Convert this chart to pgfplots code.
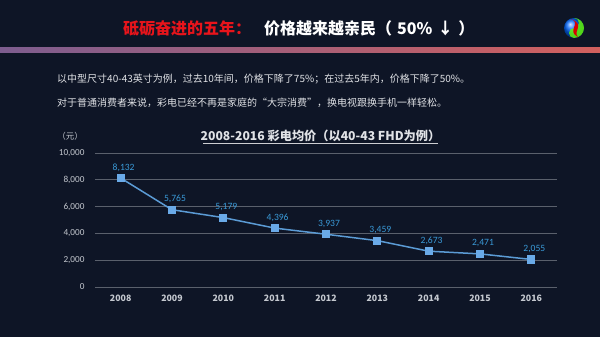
\documentclass[border=0pt]{standalone}
\usepackage{pgfplots}
\pgfplotsset{compat=1.18}
\usepackage{fontspec}
\setmainfont{Carlito}[Numbers=Lining]
\newfontfamily\cjk{Noto Sans CJK SC}
\definecolor{bg}{HTML}{0E1526}
\definecolor{gridc}{HTML}{5A606C}
\definecolor{tickc}{HTML}{C4C8CF}
\definecolor{linec}{HTML}{5B9BD5}
\definecolor{markc}{HTML}{6AAAE8}
\definecolor{labc}{HTML}{3A9AD8}
\definecolor{redt}{HTML}{E8141B}
\definecolor{barl}{HTML}{7D5D8F}
\definecolor{barr}{HTML}{D2605E}
\definecolor{txt}{HTML}{E0E2E6}
\begin{document}
\begin{tikzpicture}[x=1pt,y=1pt]
\fill[bg] (0,0) rectangle (600,337);
\path[use as bounding box] (0,0) rectangle (600,337);
% header
\node[inner sep=0pt,anchor=west] at (123,309) {\cjk\bfseries\fontsize{16}{19}\selectfont\textcolor{redt}{砥砺奋进的五年：}\hspace{13pt}\textcolor{white}{价格越来越亲民（\hspace{5pt}50\%\hspace{5pt}↓\hspace{5pt}）}};
\shade[left color=barl,right color=barr] (0,284) rectangle (600,289);
% logo
\shade[ball color=blue!60!cyan] (574,309) circle (10);
\fill[green!60!yellow,opacity=0.8] (574,299) arc (-90:90:10) -- (574,319) arc (90:-90:5) arc (90:270:5) -- cycle;
\fill[red!85!black] (571,318) .. controls (582,314) and (566,306) .. (578,300) .. controls (572,306) and (586,312) .. (571,318);
% paragraph
\node[anchor=west,inner sep=0pt,text=txt] at (57,258) {\cjk\fontsize{10}{12}\selectfont 以中型尺寸40-43英寸为例，过去10年间，价格下降了75\%；在过去5年内，价格下降了50\%。};
\node[anchor=west,inner sep=0pt,text=txt] at (57,234) {\cjk\fontsize{10}{12}\selectfont 对于普通消费者来说，彩电已经不再是家庭的“大宗消费”，换电视跟换手机一样轻松。};
% chart title
\node[inner sep=0pt,text=txt] at (320.5,201) {\cjk\bfseries\fontsize{12.2}{14}\selectfont 2008-2016 彩电均价（以40-43 FHD为例）};
\draw[txt!80!gray,line width=0.7pt] (203,193.5) -- (438,193.5);
\node[inner sep=0pt,text=tickc] at (70,201) {\cjk\fontsize{8.5}{10}\selectfont （元）};
\begin{axis}[
  at={(95pt,50pt)}, anchor=south west,
  scale only axis, width=462pt, height=134pt,
  xmin=-0.5, xmax=8.5, ymin=0, ymax=10000,
  xtick={0,1,2,3,4,5,6,7,8},
  xticklabels={2008,2009,2010,2011,2012,2013,2014,2015,2016},
  ytick={0,2000,4000,6000,8000,10000},
  ymajorgrids, grid style={gridc, line width=0.9pt},
  axis line style={draw=none},
  major tick length=0pt,
  scaled y ticks=false,
  /pgf/number format/.cd, 1000 sep={,}, assume math mode=true, /pgfplots/.cd,
  xticklabel style={text=tickc, font=\cjk\bfseries\fontsize{8.8}{11}\selectfont, anchor=base, inner sep=0pt, yshift=-15pt},
  yticklabel style={text=tickc, font=\fontsize{9.2}{11}\selectfont, xshift=-7pt},
  nodes near coords,
  nodes near coords style={text=labc, font=\fontsize{9.6}{11}\selectfont, anchor=south, inner sep=0pt, yshift=6pt, xshift=3pt},
  clip=false,
]
\addplot[linec, line width=1.5pt, mark=square*, mark size=3.3pt, mark options={fill=markc, draw=markc}]
  coordinates {(0,8132) (1,5765) (2,5179) (3,4396) (4,3937) (5,3459) (6,2673) (7,2471) (8,2055)};
\end{axis}
\end{tikzpicture}
\end{document}
